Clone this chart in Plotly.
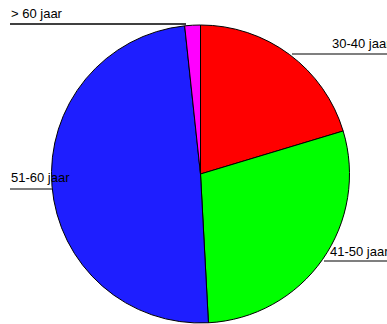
import plotly.graph_objects as go

W, H = 387, 324

# Leeftijdsgroepen en aantallen
labels = ["30-40 jaar", "41-50 jaar", "51-60 jaar", "> 60 jaar"]
values = [12, 17, 29, 1]
colors = ["#FF0000", "#00FF00", "#1E1EFF", "#FF00FF"]

# Label positions (pixels): text x, text y, line x0, line x1, line y, line colour
label_layout = {
    "> 60 jaar": (9, 14, 10, 186, 24, "#000000"),
    "30-40 jaar": (330, 44, 292, 387, 54, "#555555"),
    "51-60 jaar": (9, 177, 10, 52, 189, "#555555"),
    "41-50 jaar": (328, 251, 324, 387, 261, "#555555"),
}

cx, cy, r = 200.5, 174, 149

fig = go.Figure(go.Pie(
    labels=labels,
    values=values,
    sort=False,
    direction="clockwise",
    rotation=0,
    marker=dict(colors=colors, line=dict(color="#000000", width=1)),
    textinfo="none",
    hoverinfo="label+value+percent",
    showlegend=False,
    domain=dict(x=[(cx - r) / W, (cx + r) / W], y=[1 - (cy + r) / H, 1 - (cy - r) / H]),
))

shapes = []
annotations = []
for name in labels:
    tx, ty, lx0, lx1, ly, lc = label_layout[name]
    shapes.append(dict(type="line", xref="paper", yref="paper",
                       x0=lx0 / W, x1=lx1 / W, y0=1 - ly / H, y1=1 - ly / H,
                       line=dict(color=lc, width=1.5)))
    annotations.append(dict(text=name, xref="paper", yref="paper",
                            x=tx / W, y=1 - ty / H, xanchor="left", yanchor="middle",
                            showarrow=False,
                            font=dict(family="Liberation Sans, Arial, sans-serif", size=13, color="#000000")))

fig.update_layout(
    width=W, height=H,
    margin=dict(l=0, r=0, t=0, b=0),
    paper_bgcolor="#FFFFFF",
    plot_bgcolor="#FFFFFF",
    shapes=shapes,
    annotations=annotations,
)

fig.write_html("out.html")
